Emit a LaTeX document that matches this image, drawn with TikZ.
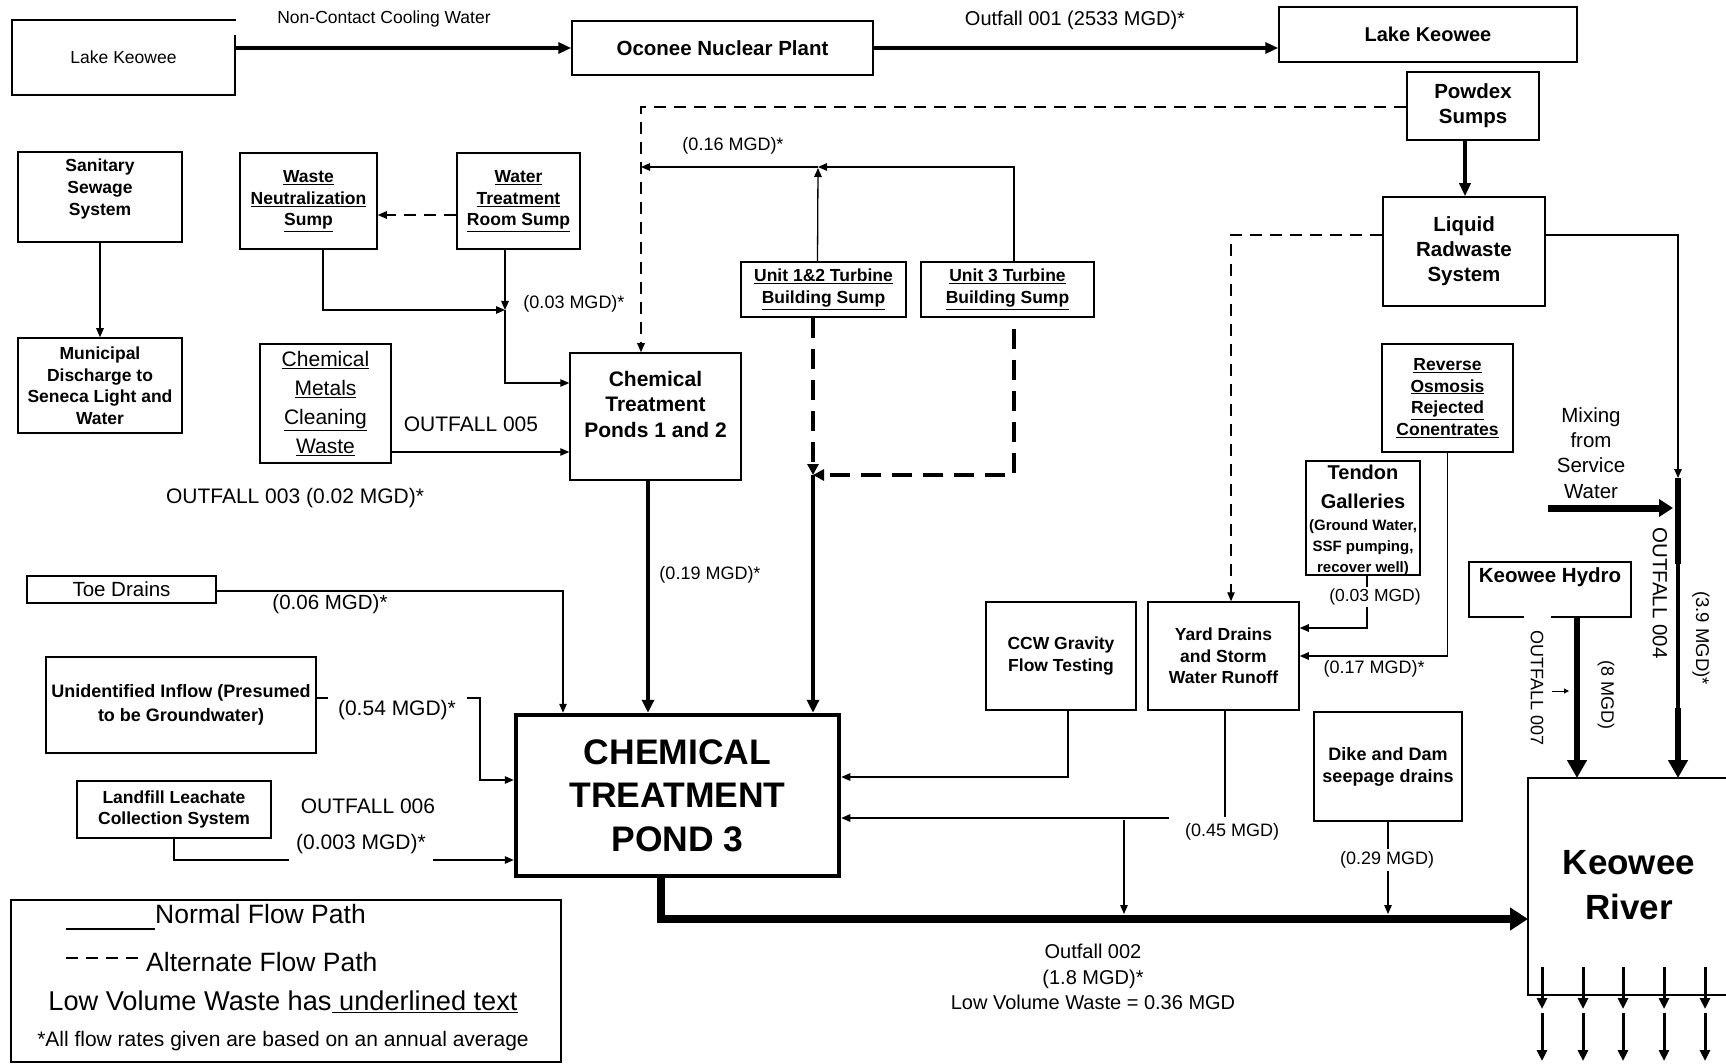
\documentclass[tikz,border=0pt]{standalone}
\usepackage{fontspec}
\setmainfont{Liberation Sans}
\usetikzlibrary{arrows.meta}
\newcommand{\fz}[2]{\fontsize{#1}{#2}\selectfont}
\begin{document}
\begin{tikzpicture}[x=1pt,y=-1pt,
 box/.style={draw, line width=1.5pt, inner sep=0pt, align=center},
 txt/.style={inner sep=0pt, align=center},
 ln/.style={line width=1.3pt},
 arr/.style={line width=1.3pt, -{Triangle[length=9pt,width=7.5pt]}},
 darr/.style={arr, dash pattern=on 12pt off 8pt},
 arrT/.style={line width=3.5pt, -{Triangle[length=13pt,width=11pt]}},
 arrThick/.style={line width=4pt, -{Triangle[length=13pt,width=12pt]}},
 tdash/.style={line width=4pt, dash pattern=on 20pt off 11pt, -{Triangle[length=11pt,width=11pt]}},
 arrHuge/.style={line width=8pt, -{Triangle[length=18pt,width=22pt]}},
 arrBig/.style={line width=6.5pt, -{Triangle[length=18pt,width=19pt]}},
 arrMix/.style={line width=7pt, -{Triangle[length=14pt,width=17pt]}},
 arrRiv/.style={line width=3pt, -{Triangle[length=11pt,width=10pt]}},
]
\useasboundingbox (0,0) rectangle (1726,1064);
\clip (0,0) rectangle (1726,1064);
\fill[white] (0,0) rectangle (1726,1064);

% ---------- boxes ----------
\node[box, minimum width=223pt, minimum height=75pt, font=\fz{17.5}{21}] (lkL) at (123.5,57.5) {Lake Keowee};
\draw[white, line width=3pt] (235,21.5) -- (235,35);
\node[box, minimum width=301pt, minimum height=54pt, font=\fz{20.5}{24}\bfseries] (oconee) at (722.5,48) {Oconee Nuclear Plant};
\node[box, minimum width=298pt, minimum height=55pt, font=\fz{20}{24}\bfseries] (lkR) at (1428,34.5) {Lake Keowee};

\node[box, minimum width=164pt, minimum height=90pt] (sani) at (100,197) {};
\node[txt, font=\fz{17.5}{22}\bfseries] (saniT) at (100,189) {Sanitary\\Sewage\\System};
\node[box, minimum width=164pt, minimum height=95pt, font=\fz{17.5}{21.5}\bfseries] (muni) at (100,385.5) {Municipal\\Discharge to\\Seneca Light and\\Water};

\node[box, minimum width=137pt, minimum height=96pt, font=\fz{17.5}{21.5}\bfseries] (wns) at (308.5,201) {\underline{Waste}\\\underline{Neutralization}\\\underline{Sump}};
\node[box, minimum width=123pt, minimum height=96pt, font=\fz{17.5}{21.5}\bfseries] (wtrs) at (518.5,201) {\underline{Water}\\\underline{Treatment}\\\underline{Room Sump}};

\node[box, minimum width=131pt, minimum height=119pt, font=\fz{21}{29}] (cmcw) at (325.5,403.5) {\underline{Chemical}\\\underline{Metals}\\\underline{Cleaning}\\\underline{Waste}};

\node[box, minimum width=171pt, minimum height=127pt] (ponds) at (655.5,416.5) {};
\node[txt, font=\fz{21}{25.5}\bfseries] (pondsT) at (655.5,404) {Chemical\\Treatment\\Ponds 1 and 2};

\node[box, minimum width=165pt, minimum height=55pt, font=\fz{17.5}{22}\bfseries] (u12) at (823.5,289.5) {\underline{Unit 1\&2 Turbine}\\\underline{Building Sump}};
\node[box, minimum width=173pt, minimum height=55pt, font=\fz{17.5}{22}\bfseries] (u3) at (1007.5,289.5) {\underline{Unit 3 Turbine}\\\underline{Building Sump}};

\node[box, minimum width=132pt, minimum height=68pt, font=\fz{20.5}{25}\bfseries] (powdex) at (1473,106) {Powdex\\Sumps};
\node[box, minimum width=162pt, minimum height=109pt, font=\fz{20.5}{25}\bfseries] (lrs) at (1464,251.5) {Liquid\\Radwaste\\System};
\node[box, minimum width=131pt, minimum height=108pt, font=\fz{17.5}{21.7}\bfseries] (ro) at (1447.5,398) {\underline{Reverse}\\\underline{Osmosis}\\\underline{Rejected}\\\underline{Conentrates}};

\node[box, minimum width=114pt, minimum height=114pt] (tendon) at (1363,518) {};
\node[txt, font=\fz{20}{29}\bfseries] (tendonT) at (1363,487) {Tendon\\Galleries};
\node[txt, font=\fz{15}{21}\bfseries] (tendonS) at (1363,548) {(Ground Water,\\SSF pumping,\\recover well)};

\node[box, minimum width=150pt, minimum height=108pt, font=\fz{17.5}{22.5}\bfseries] (ccw) at (1061,656) {CCW Gravity\\Flow Testing};
\node[box, minimum width=151pt, minimum height=108pt, font=\fz{17.5}{21.5}\bfseries] (yard) at (1223.5,656) {Yard Drains\\and Storm\\Water Runoff};
\node[box, minimum width=148pt, minimum height=109pt, font=\fz{18}{22}\bfseries] (dike) at (1388,766.5) {Dike and Dam\\seepage drains};

\node[box, minimum width=162pt, minimum height=55pt] (hydro) at (1550,589.5) {};
\node[txt, font=\fz{20.5}{24}\bfseries] (hydroT) at (1550,577) {Keowee Hydro};
\draw[white, line width=3pt] (1524,617) -- (1551,617);

\node[box, minimum width=189pt, minimum height=27pt, font=\fz{20.5}{24}] (toe) at (121.5,589.5) {Toe Drains};
\node[box, minimum width=270pt, minimum height=96pt, font=\fz{18}{23.5}\bfseries] (unid) at (181,705) {Unidentified Inflow (Presumed\\to be Groundwater)};
\node[box, minimum width=194pt, minimum height=57pt, font=\fz{17.5}{21}\bfseries] (landfill) at (174,809.5) {Landfill Leachate\\Collection System};

\node[draw, line width=4.5pt, minimum width=323pt, minimum height=161pt, inner sep=0pt, align=center, font=\fz{35.5}{43.5}\bfseries] (pond3) at (677.5,795.5) {CHEMICAL\\TREATMENT\\POND 3};

% Keowee River
\draw[line width=1.5pt] (1740,778) -- (1528,778) -- (1528,995) -- (1740,995);
\node[txt, font=\fz{35}{45}\bfseries] (river) at (1629,885) {Keowee\\River};
\coordinate (riverW) at (1528,919);

% ---------- connectors ----------
\draw[arrT] (lkL.east |- oconee.west) -- (oconee.west);
\draw[arrT] (oconee.east) -- (oconee.east -| lkR.west);
\draw[arr] (sani.south) -- (muni.north);
\draw[darr] ([yshift=-14pt]wtrs.west) -- ([yshift=-14pt]wns.east);

\coordinate (j1) at (505,310);
\draw[arr] ([xshift=14.5pt]wns.south) |- (j1);
\draw[arr] ([xshift=-13.5pt]wtrs.south) -- (j1);
\draw[arr] (j1) |- (ponds.west |- 0,383);
\draw[arr] (cmcw.east |- 0,452) -- (ponds.west |- 0,452);

\draw[darr] (powdex.west |- 0,107) -| (641,0 |- ponds.north);
\coordinate (j2) at (818,167);
\coordinate (j3) at (641,167);
\draw[arr] ([xshift=6.5pt]u3.north) |- (j2);
\draw[arr] (j2) -- (j3);
\draw[arr] ([xshift=-6pt]u12.north) -- (j2 |- 0,168);

\coordinate (j4) at (813,475);
\draw[tdash] ([xshift=-10.5pt]u12.south) -- (j4);
\draw[tdash] ([xshift=6.5pt,yshift=-11pt]u3.south) |- (j4);
\draw[arrThick] (j4) -- (j4 |- pond3.north);
\draw[arrThick] (648,0 |- ponds.south) -- (648,0 |- pond3.north);

\draw[arr] (toe.east |- 0,591) -| (563,0 |- pond3.north);
\coordinate (u1) at (328,698);
\coordinate (u2) at (467,698);
\draw[ln] (unid.east |- u1) -- (u1);
\draw[arr] (u2) -- (480,698) |- (pond3.west |- 0,780);
\coordinate (l1) at (289,860);
\coordinate (l2) at (433,860);
\draw[ln] (landfill.south) |- (l1);
\draw[arr] (l2) -- (pond3.west |- l2);

\draw[arr] ([xshift=7pt]ccw.south) |- (pond3.east |- 0,777);
\coordinate (y1) at (1225,817);
\coordinate (y2) at (1169,818);
\coordinate (y3) at (1124,820);
\coordinate (m1) at (1124,914);
\draw[ln] ([xshift=1.5pt]yard.south) -- (y1);
\draw[arr] (y2) -- (pond3.east |- y2);
\draw[arr] (y3) -- (m1);
\draw[arr] (dike.south) -- (dike.south |- m1);
\draw[arrHuge] ([xshift=-16.5pt]pond3.south) |- (riverW);

\draw[darr] (lrs.west |- 0,235) -| (1231,0 |- yard.north);
\coordinate (o4top) at (1678,478);
\draw[arr] (lrs.east |- 0,235) -| (o4top);
\draw[arrT] (1465,0 |- powdex.south) -- (1465,0 |- lrs.north);
\draw[arr] ([xshift=4pt]tendon.south) |- (yard.east |- 0,628);
\draw[arr] (ro.south) |- (yard.east |- 0,656);

\coordinate (mx1) at (1548,508);
\coordinate (mx2) at (1673,508);
\draw[arrMix] (mx1) -- (mx2);
\coordinate (o4a) at (1678,564);
\coordinate (o4b) at (1678,708);
\coordinate (o4c) at (1678,778);
\draw[line width=6pt] (o4top) -- (o4a);
\draw[line width=3.5pt] (o4a) -- (o4b);
\draw[arrBig] (o4b) -- (o4c);
\coordinate (rv1) at (1577,778);
\draw[arrBig] ([xshift=27pt]hydro.south) -- (rv1);
\coordinate (sa1) at (1552,691);
\coordinate (sa2) at (1569,691);
\draw[line width=1pt, -{Triangle[length=5pt,width=5pt]}] (sa1) -- (sa2);

\foreach \xx in {1542,1583,1623,1664,1705}{
  \draw[arrRiv] (\xx,967) -- (\xx,1009);
  \draw[arrRiv] (\xx,1013) -- (\xx,1061);
}

% ---------- labels ----------
\node[txt, font=\fz{17.5}{21}] (lblNC) at (384,19) {Non-Contact Cooling Water};
\node[txt, font=\fz{20}{24}] (lbl001) at (1075,20) {Outfall 001 (2533 MGD)*};
\node[txt, font=\fz{18}{22}] (lbl016) at (733,146) {(0.16 MGD)*};
\node[txt, font=\fz{18}{22}] (lbl003a) at (574,304) {(0.03 MGD)*};
\node[txt, font=\fz{21}{25}] (lbl005) at (471,424) {OUTFALL 005};
\node[txt, font=\fz{21}{25}] (lbl003) at (295,498) {OUTFALL 003 (0.02 MGD)*};
\node[txt, font=\fz{18}{22}] (lbl019) at (710,575) {(0.19 MGD)*};
\node[txt, font=\fz{20.5}{24}] (lbl006a) at (330,604) {(0.06 MGD)*};
\node[txt, font=\fz{21}{25}] (lbl054) at (397,710) {(0.54 MGD)*};
\node[txt, font=\fz{21}{25}] (lbl006) at (368,806) {OUTFALL 006};
\node[txt, font=\fz{21}{25}] (lbl0003) at (361,844) {(0.003 MGD)*};
\node[txt, font=\fz{17.5}{21}, fill=white, inner sep=1.5pt] (lbl003t) at (1375,597) {(0.03 MGD)};
\node[txt, font=\fz{18}{22}] (lbl017) at (1374,669) {(0.17 MGD)*};
\node[txt, font=\fz{18}{22}] (lbl045) at (1232,832) {(0.45 MGD)};
\node[txt, font=\fz{18}{22}, fill=white, inner sep=3pt] (lbl029) at (1387,860) {(0.29 MGD)};
\node[txt, font=\fz{20.5}{25.3}] (mix) at (1591,453) {Mixing\\from\\Service\\Water};
\node[txt, font=\fz{20.5}{24}, rotate=-90] (o004) at (1660,593) {OUTFALL 004};
\node[txt, font=\fz{18.5}{22}, rotate=-90] (l39) at (1701,638) {(3.9 MGD)*};
\node[txt, font=\fz{18}{22}, rotate=-90] (o007) at (1537,688) {OUTFALL 007};
\node[txt, font=\fz{18}{22}, rotate=-90] (l8) at (1606,695) {(8 MGD)};
\node[txt, font=\fz{20}{25.5}] (o002) at (1093,977) {Outfall 002\\(1.8 MGD)*\\Low Volume Waste = 0.36 MGD};

% ---------- legend ----------
\draw[line width=1.5pt] (11,900) rectangle (561,1062);
\coordinate (lgA) at (66,929);
\coordinate (lgB) at (155,929);
\draw[line width=1.3pt] (lgA) -- (lgB);
\node[txt, anchor=base west, font=\fz{26.5}{30}] (lg1) at (155,923) {Normal Flow Path};
\coordinate (lgC) at (66,958);
\coordinate (lgD) at (145,958);
\draw[line width=1.3pt, dash pattern=on 12pt off 8pt] (lgC) -- (lgD);
\node[txt, anchor=base west, font=\fz{26.5}{30}] (lg2) at (146,971) {Alternate Flow Path};
\node[txt, font=\fz{27.2}{30}] (lg3) at (283,1002) {Low Volume Waste has\underline{ underlined text}};
\node[txt, font=\fz{21}{24}] (lg4) at (283,1041) {*All flow rates given are based on an annual average};
\end{tikzpicture}
\end{document}
